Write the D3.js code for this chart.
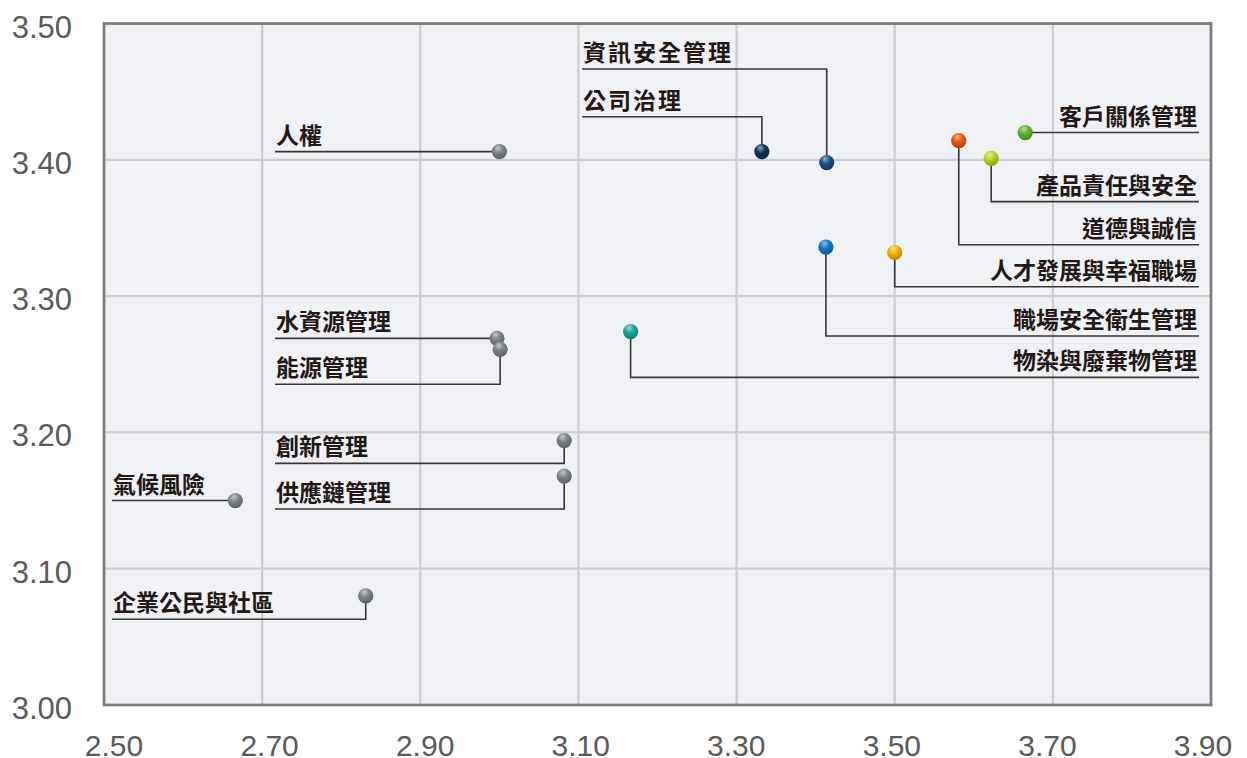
<!DOCTYPE html>
<html>
<head>
<meta charset="utf-8">
<script src="https://cdn.jsdelivr.net/npm/d3@7"></script>
<style>
  html, body { margin: 0; padding: 0; background: #ffffff; }
  svg { display: block; }
</style>
</head>
<body>
<svg id="chart" width="1247" height="758"></svg>
<script>
// Materiality topics: x = impact on operations, y = stakeholder concern
const topics = [
  "人權", "資訊安全管理", "公司治理", "客戶關係管理", "產品責任與安全",
  "道德與誠信", "人才發展與幸福職場", "職場安全衛生管理", "物染與廢棄物管理",
  "水資源管理", "能源管理", "創新管理", "供應鏈管理", "氣候風險", "企業公民與社區"
];
const impactValues  = [3.00, 3.414, 3.332, 3.665, 3.622, 3.581, 3.50, 3.413, 3.166, 2.997, 3.001, 3.082, 3.082, 2.666, 2.831];
const concernValues = [3.406, 3.398, 3.406, 3.420, 3.401, 3.414, 3.332, 3.336, 3.274, 3.269, 3.261, 3.194, 3.168, 3.150, 3.080];

const xTickValues = [2.50, 2.70, 2.90, 3.10, 3.30, 3.50, 3.70, 3.90];
const yTickValues = [3.00, 3.10, 3.20, 3.30, 3.40, 3.50];

// Marker colours, one per topic
const dotColors = [
  "#7e8388", "#17507e", "#0d3656", "#5bb52f", "#bcd41c",
  "#e95a0c", "#f7b400", "#1477c9", "#18a99a",
  "#7e8388", "#7e8388", "#7e8388", "#7e8388", "#7e8388", "#7e8388"
];

// Callout layout: which side the label sits on, the level of its leader line
// (in axis units) and, for left-hand labels, where the leader starts.
const calloutSide  = ["left", "left", "left", "right", "right", "right", "right", "right", "right", "left", "left", "left", "left", "left", "left"];
const calloutLevel = [null, 3.4666, 3.4316, null, 3.3693, 3.3377, 3.3069, 3.2707, 3.2404, null, 3.2353, 3.1773, 3.1438, null, 3.0629];
const calloutStart = [2.7163, 3.1045, 3.1045, null, null, null, null, null, null, 2.7163, 2.7163, 2.7163, 2.7163, 2.510, 2.510];
const calloutTracking = [0, 2, 2, 0, 0, 0, 0, 0, 0, 0, 0, 0, 0, 0, 0];
const calloutEnd = 3.8848;

const svg = d3.select("#chart");
const plot = { left: 104, right: 1211, top: 23.5, bottom: 705 };

const x = d3.scaleLinear().domain([2.5, 3.9]).range([plot.left, plot.right]);
const y = d3.scaleLinear().domain([3.0, 3.5]).range([plot.bottom, plot.top]);
// tick labels are spread slightly inside the frame
const xLabel = d3.scaleLinear().domain([2.5, 3.9]).range([plot.left + 10, plot.right - 8]);

const defs = svg.append("defs");
dotColors.forEach((c, i) => {
  const base = d3.color(c);
  const g = defs.append("radialGradient")
    .attr("id", "dot" + i)
    .attr("cx", "42%").attr("cy", "32%").attr("r", "70%")
    .attr("fx", "40%").attr("fy", "25%");
  g.append("stop").attr("offset", "0%").attr("stop-color", d3.interpolateRgb(c, "#ffffff")(0.55));
  g.append("stop").attr("offset", "45%").attr("stop-color", c);
  g.append("stop").attr("offset", "100%").attr("stop-color", base.darker(0.9).formatHex());
});

// plot background
svg.append("rect")
  .attr("x", plot.left).attr("y", plot.top)
  .attr("width", plot.right - plot.left).attr("height", plot.bottom - plot.top)
  .attr("fill", "#eff1f5");

// grid
const grid = svg.append("g").attr("class", "grid");
grid.selectAll("line.vx")
  .data(xTickValues.slice(1, -1))
  .join("line")
  .attr("x1", d => x(d)).attr("x2", d => x(d))
  .attr("y1", plot.top).attr("y2", plot.bottom)
  .attr("stroke", "#cbcdd0").attr("stroke-width", 2.2);
grid.selectAll("line.hy")
  .data(yTickValues.slice(1, -1))
  .join("line")
  .attr("x1", plot.left).attr("x2", plot.right)
  .attr("y1", d => y(d)).attr("y2", d => y(d))
  .attr("stroke", "#cbcdd0").attr("stroke-width", 2.2);

// frame
svg.append("rect")
  .attr("x", plot.left).attr("y", plot.top)
  .attr("width", plot.right - plot.left).attr("height", plot.bottom - plot.top)
  .attr("fill", "none").attr("stroke", "#7d7d7d").attr("stroke-width", 2.8);

// tick labels
const fmt = d3.format(".2f");
svg.append("g").selectAll("text")
  .data(xTickValues)
  .join("text")
  .attr("x", d => xLabel(d)).attr("y", 756)
  .attr("text-anchor", "middle")
  .attr("font-family", "'Liberation Sans', Arial, sans-serif")
  .attr("font-size", 30).attr("fill", "#5a5a5a")
  .text(fmt);
svg.append("g").selectAll("text")
  .data(yTickValues)
  .join("text")
  .attr("x", 72).attr("y", d => y(d) + 14)
  .attr("text-anchor", "end")
  .attr("font-family", "'Liberation Sans', Arial, sans-serif")
  .attr("font-size", 31).attr("fill", "#5a5a5a")
  .text(fmt);

const rows = topics.map((name, i) => ({
  name,
  vx: impactValues[i],
  vy: concernValues[i],
  color: dotColors[i],
  side: calloutSide[i],
  level: calloutLevel[i] == null ? concernValues[i] : calloutLevel[i],
  start: calloutStart[i],
  tracking: calloutTracking[i],
  i
}));

// leader lines
svg.append("g").selectAll("path")
  .data(rows)
  .join("path")
  .attr("fill", "none")
  .attr("stroke", "#3d3533").attr("stroke-width", 1.6)
  .attr("d", d => {
    const px = x(d.vx), py = y(d.vy), ly = y(d.level);
    const lx = d.side === "left" ? x(d.start) : x(calloutEnd);
    return `M${lx},${ly}H${px}V${py}`;
  });

// labels
svg.append("g").selectAll("text")
  .data(rows)
  .join("text")
  .attr("x", d => d.side === "left" ? x(d.start) + 1 : x(calloutEnd) - 2 + d.tracking)
  .attr("y", d => y(d.level) - 8)
  .attr("text-anchor", d => d.side === "left" ? "start" : "end")
  .attr("font-family", "'Noto Sans CJK TC', 'Noto Sans CJK SC', sans-serif")
  .attr("font-weight", 700)
  .attr("font-size", 23)
  .attr("letter-spacing", d => d.tracking)
  .attr("fill", "#231815")
  .text(d => d.name);

// markers
svg.append("g").selectAll("circle")
  .data(rows)
  .join("circle")
  .attr("cx", d => x(d.vx)).attr("cy", d => y(d.vy))
  .attr("r", 7.6)
  .attr("fill", d => `url(#dot${d.i})`);
</script>
</body>
</html>
